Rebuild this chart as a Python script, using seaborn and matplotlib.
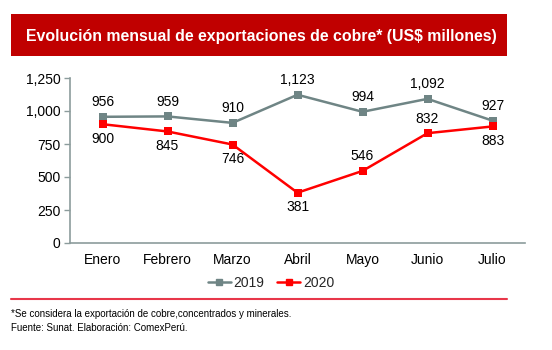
import pandas as pd
import matplotlib.pyplot as plt
import seaborn as sns
from matplotlib.patches import Rectangle
from matplotlib.lines import Line2D

# Data
meses = ['Enero', 'Febrero', 'Marzo', 'Abril', 'Mayo', 'Junio', 'Julio']
exp_2019 = [956, 959, 910, 1123, 994, 1092, 927]
exp_2020 = [900, 845, 746, 381, 546, 832, 883]
# label placement: +1 above the point, -1 below
pos_2019 = [1, 1, 1, 1, 1, 1, 1]
pos_2020 = [-1, -1, -1, -1, 1, 1, -1]

df = pd.DataFrame({
    'mes': meses * 2,
    'x': list(range(len(meses))) * 2,
    'valor': exp_2019 + exp_2020,
    'anio': ['2019'] * len(meses) + ['2020'] * len(meses),
})

sns.set_style('white')
plt.rcParams['font.family'] = ['Liberation Sans', 'DejaVu Sans']

gris = '#6f8585'
rojo = '#ff0000'
eje = '#8c9c9c'

fig = plt.figure(figsize=(5.52, 3.5), dpi=100)
ax = fig.add_axes([70 / 552, 1 - 243 / 350, 455 / 552, 165 / 350])

sns.lineplot(data=df, x='x', y='valor', hue='anio', palette={'2019': gris, '2020': rojo},
             marker='s', markersize=6, markeredgewidth=0, linewidth=1.8, ax=ax, legend=False)

for vals, pos in [(exp_2019, pos_2019), (exp_2020, pos_2020)]:
    for i, (v, p) in enumerate(zip(vals, pos)):
        ax.annotate(f'{v:,}', (i, v), xytext=(0, 10.5 * p), textcoords='offset points',
                    ha='center', va='center', fontsize=10, color='black')

ax.set_xlim(-0.5, len(meses) - 0.5)
ax.set_ylim(0, 1250)
ax.set_yticks([0, 250, 500, 750, 1000, 1250])
ax.set_yticklabels([f'{t:,}' for t in [0, 250, 500, 750, 1000, 1250]])
ax.set_xticks(range(len(meses)))
ax.set_xticklabels(meses)
ax.set_xticks([i - 0.5 for i in range(len(meses) + 1)], minor=True)
ax.tick_params(axis='x', which='major', length=0, pad=7, labelsize=10, labelcolor='black')
ax.tick_params(axis='x', which='minor', length=4, color=eje, width=1)
ax.tick_params(axis='y', length=4, color=eje, width=1, labelsize=10, pad=3, left=True,
               labelcolor='black')
ax.set_xlabel('')
ax.set_ylabel('')
sns.despine(ax=ax)
for s in ['left', 'bottom']:
    ax.spines[s].set_color(eje)
    ax.spines[s].set_linewidth(1.2)

# title banner
fig.add_artist(Rectangle((11 / 552, 1 - 56 / 350), 496 / 552, 42 / 350,
                         transform=fig.transFigure, color='#c00000', lw=0))
fig.text(261 / 552, 1 - 37 / 350, 'Evolución mensual de exportaciones de cobre* (US$ millones)',
         color='white', fontsize=11.4, fontweight='bold', ha='center', va='center')

# legend
handles = [Line2D([], [], color=gris, marker='s', markersize=4, lw=1.8),
           Line2D([], [], color=rojo, marker='s', markersize=4, lw=1.8)]
fig.legend(handles, ['2019', '2020'], loc='center', bbox_to_anchor=(271 / 552, 1 - 283 / 350),
           ncol=2, frameon=False, fontsize=10, handlelength=1.65, handletextpad=0.2,
           columnspacing=0.9)

# bottom rule and notes
fig.add_artist(Line2D([11 / 552, 507 / 552], [1 - 299 / 350] * 2, transform=fig.transFigure,
                      color='#e8374a', lw=1.5))
fig.text(11 / 552, 1 - 314 / 350, '*Se considera la exportación de cobre,concentrados y minerales.',
         fontsize=7, va='center', color='black')
fig.text(11 / 552, 1 - 328 / 350, 'Fuente: Sunat. Elaboración: ComexPerú.',
         fontsize=7, va='center', color='black')

fig.savefig('out.png', dpi=100, facecolor='white')
